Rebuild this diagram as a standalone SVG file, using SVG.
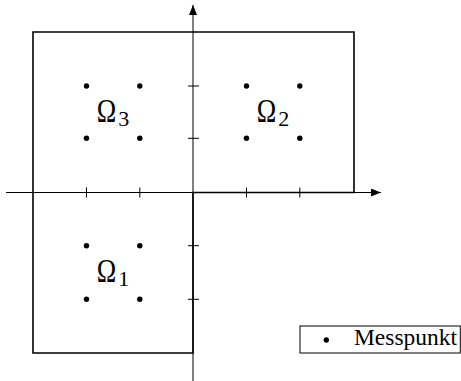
<svg xmlns="http://www.w3.org/2000/svg" width="461" height="381" viewBox="0 0 461 381">
<style>
.ax{stroke:#000;stroke-width:1;fill:none}
.bd{stroke:#000;stroke-width:1.6;fill:none;stroke-linejoin:miter}
.tk{stroke:#000;stroke-width:1;fill:none}
.pt{fill:#000}
.om{font-family:"Liberation Serif",serif;font-size:34px;fill:#000}
.sb{font-family:"Liberation Serif",serif;font-size:22px;fill:#000}
.lg{font-family:"Liberation Serif",serif;font-size:24px;fill:#000}
</style>
<defs>
<marker id="ar" viewBox="0 0 10 8" refX="10" refY="4" markerWidth="10" markerHeight="8" markerUnits="userSpaceOnUse" orient="auto">
<path d="M0,0 L10,4 L0,8 Z" fill="#000"/>
</marker>
</defs>
<g id="connectors">
<line class="ax" x1="6" y1="192.5" x2="381" y2="192.5" marker-end="url(#ar)"/>
<line class="ax" x1="193" y1="381" x2="193" y2="5" marker-end="url(#ar)"/>
<g id="ticks">
<line class="tk" x1="86.5" y1="187.5" x2="86.5" y2="197.5"/>
<line class="tk" x1="139.8" y1="187.5" x2="139.8" y2="197.5"/>
<line class="tk" x1="246.5" y1="187.5" x2="246.5" y2="197.5"/>
<line class="tk" x1="299.8" y1="187.5" x2="299.8" y2="197.5"/>
<line class="tk" x1="188" y1="86" x2="199" y2="86"/>
<line class="tk" x1="188" y1="138.3" x2="199" y2="138.3"/>
<line class="tk" x1="188" y1="245.7" x2="199" y2="245.7"/>
<line class="tk" x1="188" y1="299.3" x2="199" y2="299.3"/>
</g>
</g>
<g id="domain">
<path class="bd" d="M33,32 H354 V192.5 H193 V353 H33 Z"/>
</g>
<g id="omega3">
<circle class="pt" cx="86.5" cy="86" r="2.7"/>
<circle class="pt" cx="139.8" cy="86" r="2.7"/>
<circle class="pt" cx="86.5" cy="138.3" r="2.7"/>
<circle class="pt" cx="139.8" cy="138.3" r="2.7"/>
<text class="om" transform="translate(96.7,121.7) scale(0.77,1)">Ω</text>
<text class="sb" x="118.3" y="125.7">3</text>
</g>
<g id="omega2">
<circle class="pt" cx="246.5" cy="86" r="2.7"/>
<circle class="pt" cx="299.8" cy="86" r="2.7"/>
<circle class="pt" cx="246.5" cy="138.3" r="2.7"/>
<circle class="pt" cx="299.8" cy="138.3" r="2.7"/>
<text class="om" transform="translate(256.7,121.7) scale(0.77,1)">Ω</text>
<text class="sb" x="278.3" y="125.7">2</text>
</g>
<g id="omega1">
<circle class="pt" cx="86.5" cy="245.7" r="2.7"/>
<circle class="pt" cx="139.8" cy="245.7" r="2.7"/>
<circle class="pt" cx="86.5" cy="299.3" r="2.7"/>
<circle class="pt" cx="139.8" cy="299.3" r="2.7"/>
<text class="om" transform="translate(96.7,281.7) scale(0.77,1)">Ω</text>
<text class="sb" x="118.3" y="286">1</text>
</g>
<g id="legend">
<rect x="300" y="326" width="160.3" height="27" fill="none" stroke="#000" stroke-width="1"/>
<circle class="pt" cx="326.3" cy="340" r="2.7"/>
<text class="lg" x="354" y="345" textLength="103" lengthAdjust="spacingAndGlyphs">Messpunkt</text>
</g>
</svg>
